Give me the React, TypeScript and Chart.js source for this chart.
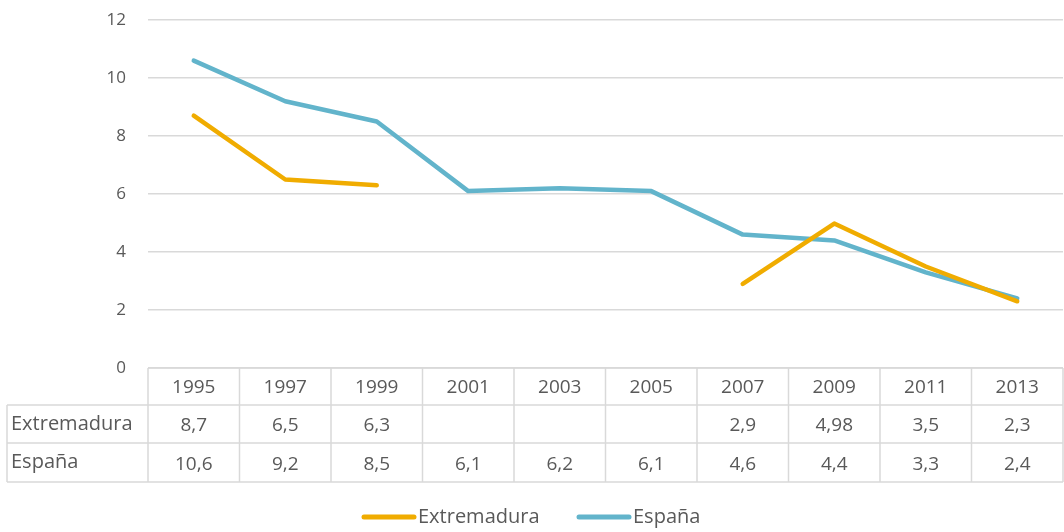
import React, { useEffect, useRef } from "react";
import { Chart, registerables } from "chart.js";

Chart.register(...registerables);

const categories = ["1995", "1997", "1999", "2001", "2003", "2005", "2007", "2009", "2011", "2013"];
const extremadura: (number | null)[] = [8.7, 6.5, 6.3, null, null, null, 2.9, 4.98, 3.5, 2.3];
const espana: number[] = [10.6, 9.2, 8.5, 6.1, 6.2, 6.1, 4.6, 4.4, 3.3, 2.4];
const seriesNames = ["Extremadura", "España"];
const seriesColors = ["#F0AC00", "#62B4CB"];

const FONT = "'Open Sans', Lato, sans-serif";
const TEXT = "#595959";
const GRID = "#d9d9d9";

const fmt = (v: number | null) => (v === null ? "" : String(v).replace(".", ","));

const tablePlugin = {
  id: "dataTable",
  afterDraw(chart: any) {
    const ctx = chart.ctx;
    const x = chart.scales.x;
    const area = chart.chartArea;
    const left = area.left;
    const right = area.right;
    const top = area.bottom;
    const rows = [top, top + 37, top + 75, top + 114];
    const labelLeft = 7;
    ctx.save();
    ctx.strokeStyle = GRID;
    ctx.lineWidth = 1.5;
    ctx.beginPath();
    ctx.moveTo(left, rows[0]);
    ctx.lineTo(right, rows[0]);
    for (let i = 1; i < rows.length; i++) {
      ctx.moveTo(labelLeft, rows[i]);
      ctx.lineTo(right, rows[i]);
    }
    const n = categories.length;
    const step = (right - left) / n;
    for (let i = 0; i <= n; i++) {
      const xx = i === n ? right : x.getPixelForValue(i) - step / 2;
      ctx.moveTo(xx, rows[0]);
      ctx.lineTo(xx, rows[3]);
    }
    ctx.moveTo(labelLeft, rows[1]);
    ctx.lineTo(labelLeft, rows[3]);
    ctx.stroke();

    ctx.fillStyle = TEXT;
    ctx.textBaseline = "middle";
    ctx.font = `19px ${FONT}`;
    ctx.textAlign = "center";
    categories.forEach((c, i) => {
      ctx.fillText(c, x.getPixelForValue(i), (rows[0] + rows[1]) / 2 + 1);
    });
    const data = [extremadura, espana];
    data.forEach((arr, r) => {
      const cy = (rows[r + 1] + rows[r + 2]) / 2;
      ctx.textAlign = "left";
      ctx.font = `20px ${FONT}`;
      ctx.fillText(seriesNames[r], 11, cy);
      ctx.textAlign = "center";
      ctx.font = `19px ${FONT}`;
      arr.forEach((v, i) => {
        ctx.fillText(fmt(v), x.getPixelForValue(i), cy + 2);
      });
    });

    const ly = 517;
    ctx.lineCap = "round";
    ctx.lineWidth = 5;
    ctx.font = `20px ${FONT}`;
    ctx.textAlign = "left";
    const starts = [362, 577];
    seriesNames.forEach((name, i) => {
      ctx.strokeStyle = seriesColors[i];
      ctx.beginPath();
      ctx.moveTo(starts[i] + 2, ly);
      ctx.lineTo(starts[i] + 52, ly);
      ctx.stroke();
      ctx.fillStyle = TEXT;
      ctx.fillText(name, starts[i] + 56, ly);
    });
    ctx.restore();
  },
};

export default function App() {
  const ref = useRef<HTMLCanvasElement>(null);
  useEffect(() => {
    const chart = new Chart(ref.current!, {
      type: "line",
      data: {
        labels: categories,
        datasets: [
          {
            label: seriesNames[0],
            data: extremadura,
            borderColor: seriesColors[0],
            backgroundColor: seriesColors[0],
            borderWidth: 4.5,
            pointRadius: 0,
            spanGaps: false,
            borderJoinStyle: "round",
            borderCapStyle: "round",
            tension: 0,
          },
          {
            label: seriesNames[1],
            data: espana,
            borderColor: seriesColors[1],
            backgroundColor: seriesColors[1],
            borderWidth: 4.5,
            pointRadius: 0,
            borderJoinStyle: "round",
            borderCapStyle: "round",
            tension: 0,
          },
        ],
      },
      options: {
        responsive: false,
        animation: false,
        layout: { padding: { left: 0, top: 20, right: 1, bottom: 164 } },
        plugins: { legend: { display: false }, tooltip: { enabled: false } },
        scales: {
          x: {
            type: "category",
            display: false,
            offset: true,
          },
          y: {
            min: 0,
            max: 12,
            ticks: {
              stepSize: 2,
              padding: 22,
              color: TEXT,
              font: { family: FONT, size: 17 },
            },
            grid: { color: GRID, lineWidth: 1.5, drawTicks: false, tickLength: 0 },
            border: { display: false },
            afterFit: (scale: any) => {
              scale.width = 148;
              scale.paddingTop = 0;
              scale.paddingBottom = 0;
            },
          },
        },
      },
      plugins: [tablePlugin],
    });
    return () => chart.destroy();
  }, []);
  return (
    <div style={{ position: "fixed", left: 0, top: 0, width: 1064, height: 532, background: "#fff" }}>
      <canvas ref={ref} width={1064} height={532} style={{ display: "block" }} />
    </div>
  );
}
